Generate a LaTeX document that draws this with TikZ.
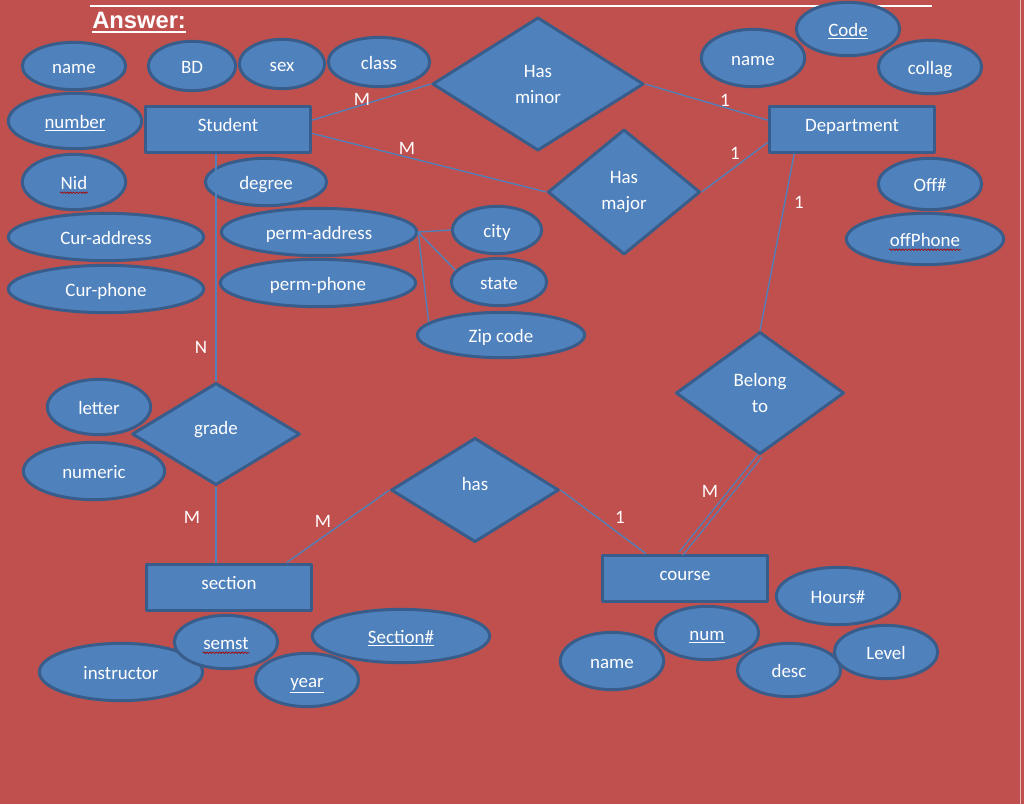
\documentclass[tikz,border=0pt]{standalone}
\usepackage{fontspec}
\setmainfont{Carlito}
\newfontfamily\ansfont{Liberation Sans}
\usetikzlibrary{shapes.geometric,decorations.pathmorphing}
\definecolor{nen}{HTML}{C0504D}
\definecolor{xanh}{HTML}{4F81BD}
\definecolor{vien}{HTML}{385D8A}
\definecolor{loi}{HTML}{A01010}
\tikzset{
	thuoctinh/.style={ellipse, draw=vien, fill=xanh, line width=2.25pt, inner sep=0pt, text=white, text height=11pt, text depth=0pt},
	thucthe/.style={rectangle, draw=vien, fill=xanh, line width=2.25pt, inner sep=0pt, text=white, text height=9.5pt, text depth=5.5pt},
	quanhe/.style={diamond, draw=vien, fill=xanh, line width=2.25pt, inner sep=0pt, text=white, align=center},
	motdong/.style={text height=9.5pt, text depth=9pt},
	noi/.style={draw=xanh, line width=1pt},
	nhan/.style={text=white, inner sep=0pt},
	gachdo/.style={draw=loi, line width=0.6pt, decorate, decoration={snake, amplitude=0.6pt, segment length=2.4pt}}
}
\begin{document}
\begin{tikzpicture}[x=0.75pt, y=-0.75pt, line join=round, font=\fontsize{14.2}{19.5}\selectfont]
	\fill[nen] (0,0) rectangle (1024,804);
	\useasboundingbox (0,0) rectangle (1024,804);
	\draw[white, line width=1pt] (90,6)--(932,6);
	\draw[white!60!nen, line width=0.8pt] (1020.5,0)--(1020.5,804);
	\node[nhan, anchor=base west, font=\ansfont\bfseries\fontsize{17.8}{20}\selectfont] (ans) at (92,28) {Answer:};
	\draw[white, line width=1.6pt] ([yshift=-3pt]ans.base west)--([yshift=-3pt]ans.base east);
	
	% thuc the
	\foreach \ten/\x/\y/\chu in {st/228/129/Student, dep/852/129/Department, sec/229/587/section, co/685/578/course}
	\node[thucthe, minimum width=124pt, minimum height=34.5pt] (\ten) at (\x,\y) {\chu};
	
	% quan he
	\foreach \ten/\x/\y/\w/\h/\chu in {hmin/538/84/214/136/{Has\\minor}, hmaj/624/192/155/128/{Has\\major}, bel/760/393/171/125/{Belong\\to}}
	\node[quanhe, minimum width={\w*0.75pt-2pt}, minimum height={\h*0.75pt-2pt}] (\ten) at (\x,\y) {\chu};
	\node[quanhe, motdong, minimum width=126pt, minimum height=76.7pt] (gr) at (216,434) {grade};
	\node[quanhe, motdong, minimum width=126pt, minimum height=78.2pt] (has) at (475,490) {has};
	
	% thuoc tinh
	\foreach \ten/\x/\y/\rx/\ry/\chu in {
		ten1/74/66/53/25/name, bd/192/66/45/26/BD, sex/282/64/44/26/sex, cls/379/62/52/26/class,
		so/75/121/68/29/{\underline{number}}, nid/74/182/53/29/Nid, deg/266/182/62/25/degree,
		cadd/106/237/99/25/Cur-address, cph/106/289/99/25/Cur-phone,
		padd/319/232/99/25/perm-address, pph/318/283/99/25/perm-phone,
		city/497/230/46/25/city, state/499/282/49/25/state, zip/501/335/85/24/Zip code,
		ten2/753/58/53/30/name, code/848/29/53/28/{\underline{Code}}, coll/930/67/53/28/collag,
		off/930/184/53/27/{Off\#}, offp/925/239/80/27/offPhone,
		let/99/407/53/29/letter, nume/94/471/72/30/numeric,
		ins/121/672/83/30/instructor, sem/226/642/53/28/semst, yr/307/680/53/28/{\underline{year}}, secn/401/636/90/28/{\underline{Section\#}},
		ten3/612/661/53/30/name, cnum/707/633/53/28/{\underline{num}}, desc/789/670/53/28/desc, lev/886/652/53/28/Level, hrs/838/596/63/30/{Hours\#}}
	\node[thuoctinh, minimum width={\rx*1.5pt-2pt}, minimum height={\ry*1.5pt-2pt}] (\ten) at (\x,\y) {\chu};
	
	% gach do chinh ta
	\draw[gachdo] ([xshift=-10.5pt, yshift=-2.5pt]nid.base)--([xshift=10.5pt, yshift=-2.5pt]nid.base);
	\draw[gachdo] ([xshift=-27pt, yshift=-2.5pt]offp.base)--([xshift=27pt, yshift=-2.5pt]offp.base);
	\draw[gachdo] ([xshift=-17.5pt, yshift=-2.5pt]sem.base)--([xshift=17.5pt, yshift=-2.5pt]sem.base);
	
	% duong noi
	\draw[noi] (st.6)--(hmin.west);
	\draw[noi] (st.-3)--(hmaj.west);
	\draw[noi] (hmin.east)--(dep.174);
	\draw[noi] (hmaj.east)--(dep.189);
	\draw[noi] (dep.203)--(bel.north);
	\draw[noi, double=nen, double distance=2.4pt] (bel.south)--([xshift=-3pt]co.north);
	\draw[noi] (co.148)--(has.east);
	\draw[noi] (has.west)--(sec.23);
	\draw[noi] (gr.south)--(gr.south |- sec.north);
	\draw[noi] (gr.north)--(gr.north |- st.south);
	\draw[noi] (padd.east)--(city.west);
	\draw[noi] (padd.east)--(state.165);
	\draw[noi] (padd.east)--(zip.170);
	
	% nhan
	\foreach \ten/\x/\y/\chu in {l1/362/99/M, l2/407/148/M, l3/725/100/1, l4/735/153/1, l5/799/202/1, l6/201/347/N, l7/192/517/M, l8/323/521/M, l9/620/517/1, l10/710/491/M}
	\node[nhan] (\ten) at (\x,\y) {\chu};
\end{tikzpicture}
\end{document}
